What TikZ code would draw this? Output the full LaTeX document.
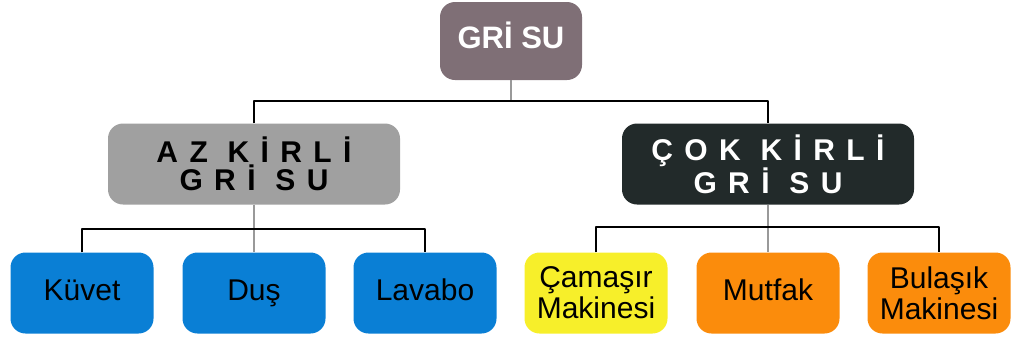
\documentclass[tikz,border=0pt]{standalone}
\usepackage{fontspec}
\setmainfont{Liberation Sans}
\newfontfamily\genis[LetterSpace=38]{Liberation Sans}
\definecolor{gricol}{HTML}{7F6F76}
\definecolor{azcol}{HTML}{A0A0A0}
\definecolor{cokcol}{HTML}{222A2A}
\definecolor{mavi}{HTML}{0A7FD5}
\definecolor{sari}{HTML}{F7EF2A}
\definecolor{turuncu}{HTML}{FB8C0C}
\begin{document}
\begin{tikzpicture}[x=1pt,y=-1pt,line join=round,
	kutu/.style={rounded corners=15pt,inner sep=0pt,align=center,minimum width=143pt,minimum height=81pt,font=\fontsize{30}{31}\selectfont},
	tek/.style={kutu,text height=21pt,text depth=7pt},
	ustkutu/.style={tek,fill=gricol,text=white,minimum width=142pt,minimum height=78pt,font=\fontsize{31}{32}\selectfont\bfseries},
	ortakutu/.style={kutu,minimum width=292pt,font=\genis\fontsize{30}{28}\selectfont\bfseries},
	hat/.style={line width=1.6pt,black},
	sap/.style={line width=1.6pt,black!40}]
	\useasboundingbox (0,0) rectangle (1012,341);
	\node[ustkutu] (gri) at (511,41) {GRİ SU};
	\node[ortakutu,fill=azcol,text=black] (az) at (254,164) {AZ KİRLİ\\GRİ SU};
	\node[ortakutu,fill=cokcol,text=white] (cok) at (768,164) {ÇOK KİRLİ\\GRİ SU};
	\node[tek,fill=mavi] (kuvet) at (82,293) {Küvet};
	\node[tek,fill=mavi] (dus) at (254,293) {Duş};
	\node[tek,fill=mavi] (lavabo) at (425,293) {Lavabo};
	\node[kutu,fill=sari] (camasir) at (596,293) {Çamaşır\\Makinesi};
	\node[tek,fill=turuncu] (mutfak) at (768,293) {Mutfak};
	\node[kutu,fill=turuncu] (bulasik) at (939,293) {Bulaşık\\Makinesi};
	\coordinate (j1) at (511,101);
	\coordinate (j2) at (254,229);
	\coordinate (j3) at (768,227);
	\draw[sap] (gri.south) -- (j1);
	\draw[hat] (az.north) |- (j1) -| (cok.north);
	\draw[sap] (az.south) -- (dus.north);
	\draw[hat] (kuvet.north) |- (j2) -| (lavabo.north);
	\draw[sap] (cok.south) -- (mutfak.north);
	\draw[hat] (camasir.north) |- (j3) -| (bulasik.north);
\end{tikzpicture}
\end{document}
